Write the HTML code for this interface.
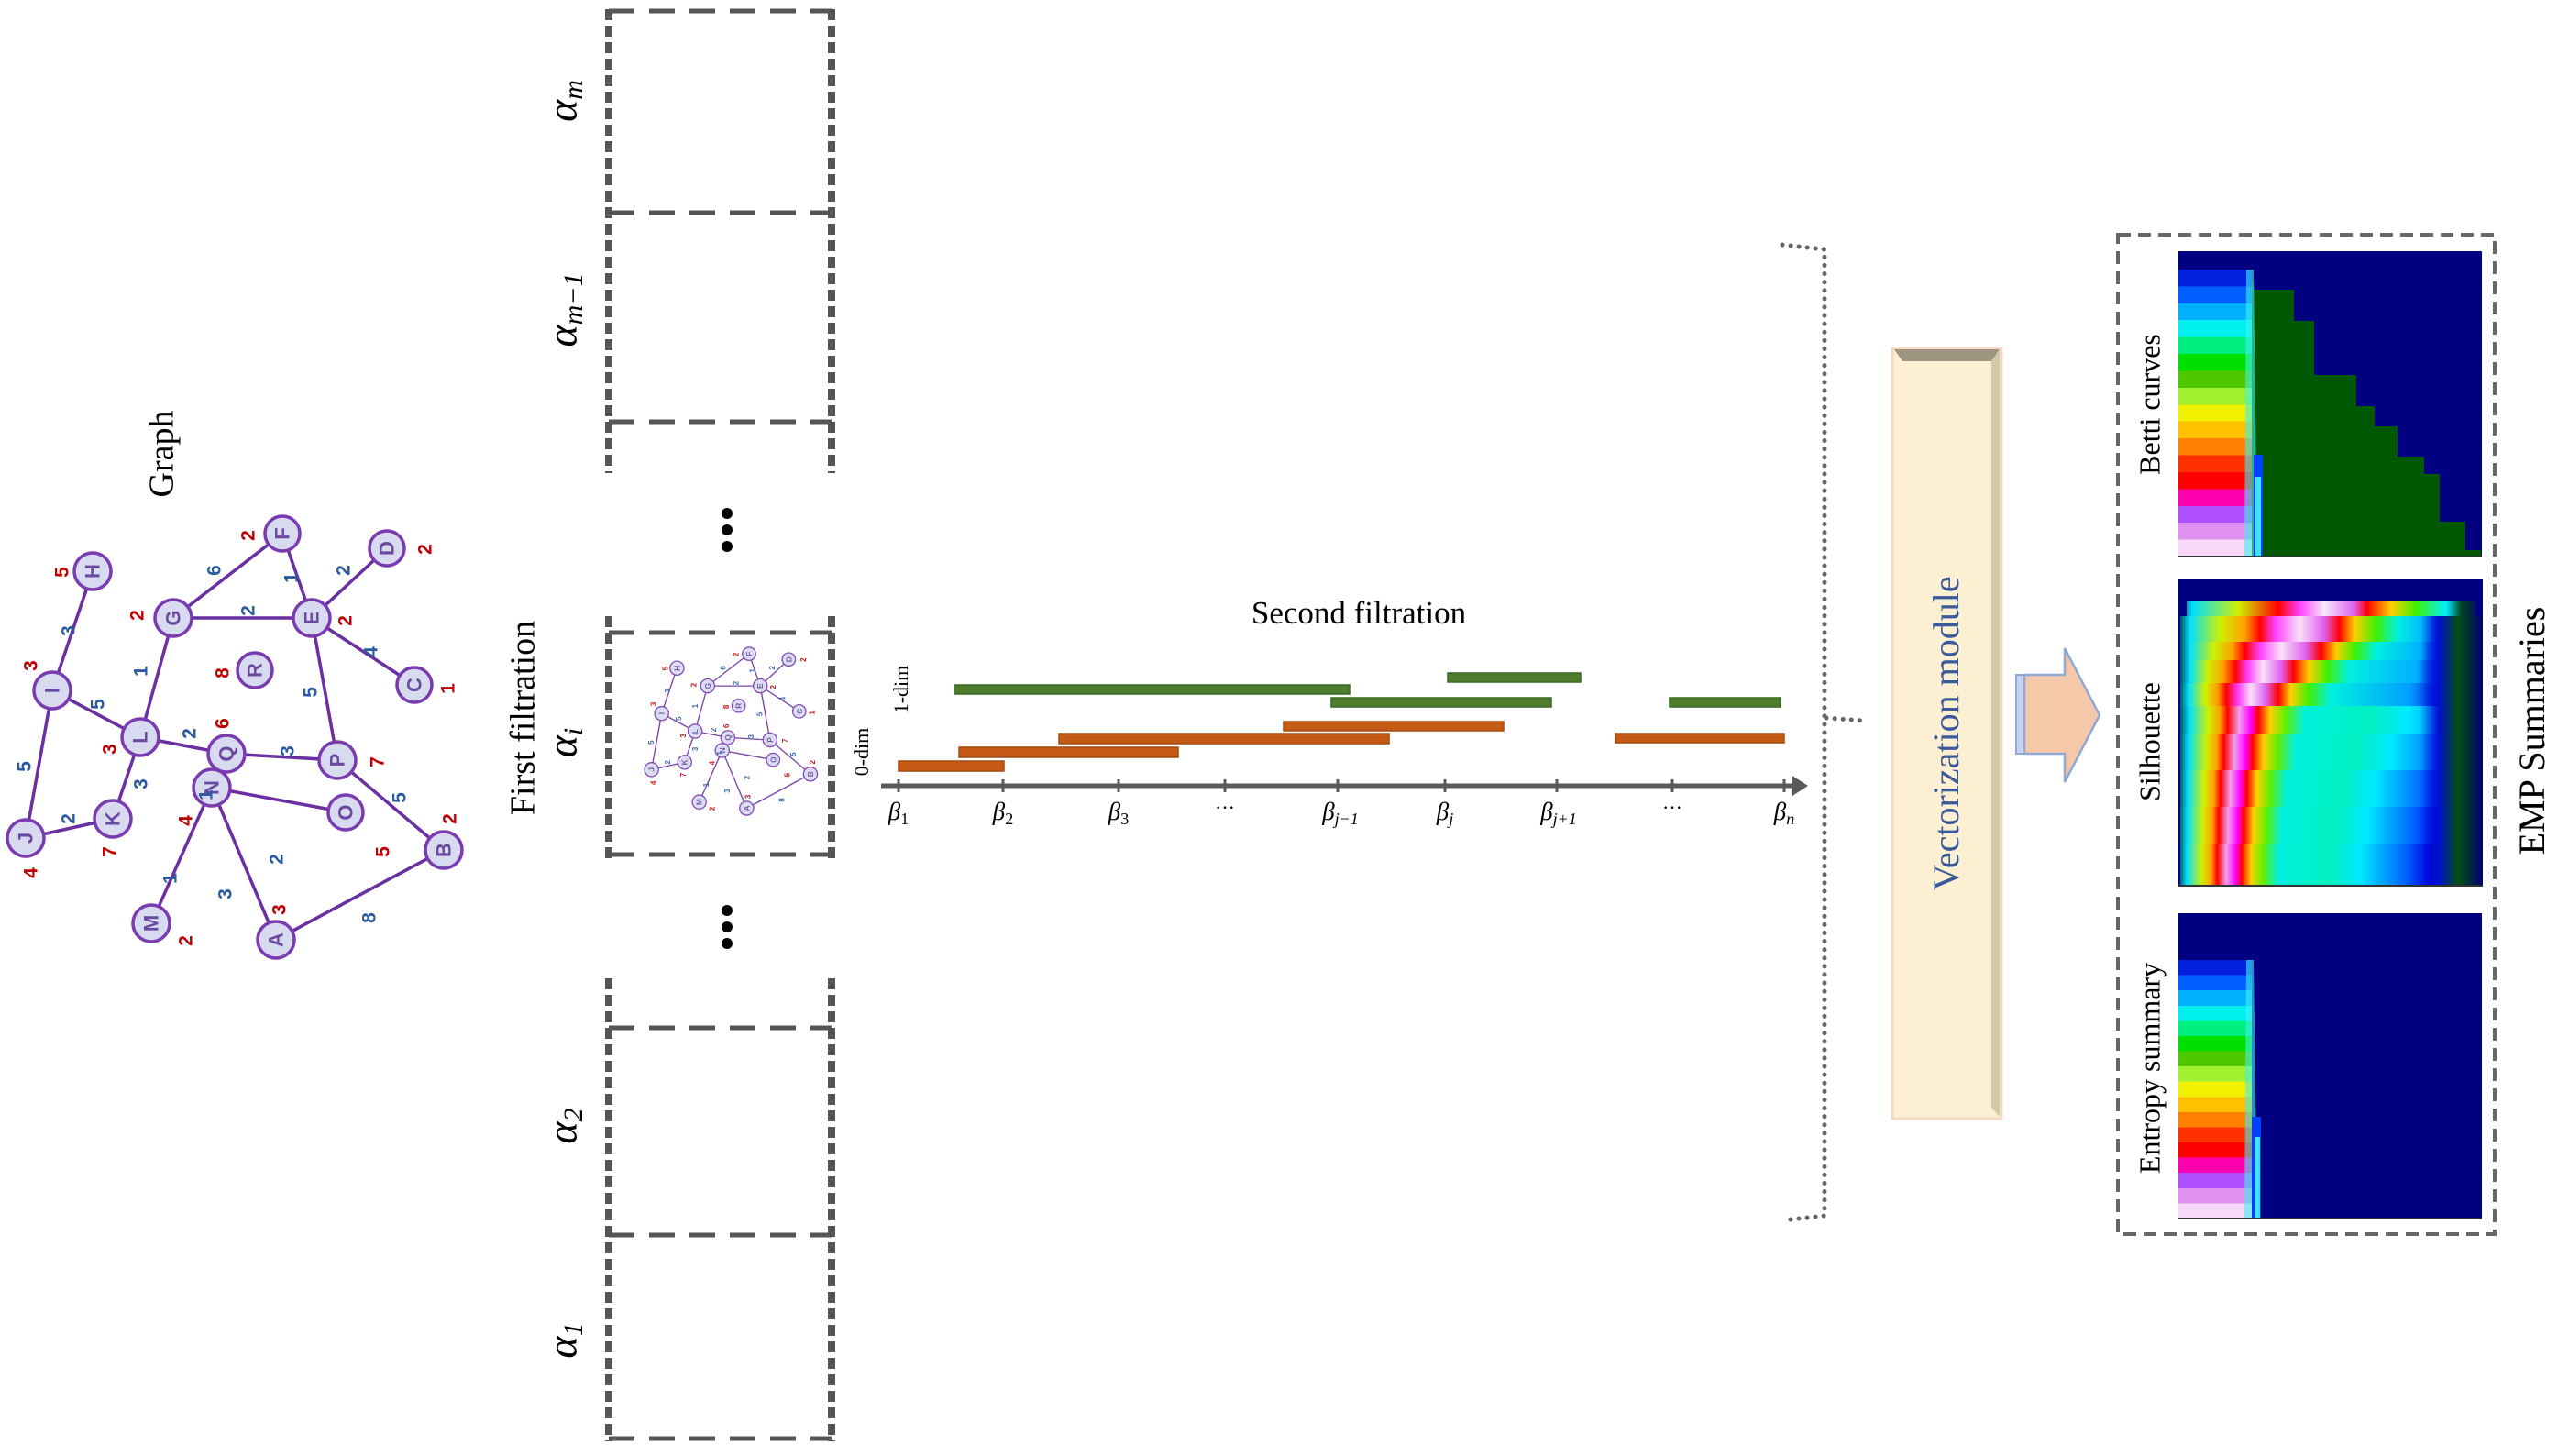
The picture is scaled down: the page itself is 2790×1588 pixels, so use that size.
<!DOCTYPE html>
<html><head><meta charset="utf-8"><style>
html,body{margin:0;padding:0;background:#fff;}
svg{display:block;}
.w{font-family:"Liberation Sans",sans-serif;font-weight:bold;}
.s{font-family:"Liberation Serif",serif;}
</style></head><body>
<svg width="2790" height="1588" viewBox="0 0 2790 1588" xmlns="http://www.w3.org/2000/svg">
<defs>
<linearGradient id="st" x1="0" y1="0" x2="0" y2="1">
<stop offset="0" stop-color="#0020e0"/><stop offset=".0588" stop-color="#0020e0"/>
<stop offset=".0588" stop-color="#0060ff"/><stop offset=".1176" stop-color="#0060ff"/>
<stop offset=".1176" stop-color="#00b0ff"/><stop offset=".1765" stop-color="#00b0ff"/>
<stop offset=".1765" stop-color="#00f0f0"/><stop offset=".2353" stop-color="#00f0f0"/>
<stop offset=".2353" stop-color="#00f080"/><stop offset=".2941" stop-color="#00f080"/>
<stop offset=".2941" stop-color="#00e000"/><stop offset=".3529" stop-color="#00e000"/>
<stop offset=".3529" stop-color="#50c800"/><stop offset=".4118" stop-color="#50c800"/>
<stop offset=".4118" stop-color="#a0f030"/><stop offset=".4706" stop-color="#a0f030"/>
<stop offset=".4706" stop-color="#f0f000"/><stop offset=".5294" stop-color="#f0f000"/>
<stop offset=".5294" stop-color="#ffc000"/><stop offset=".5882" stop-color="#ffc000"/>
<stop offset=".5882" stop-color="#ff8000"/><stop offset=".6471" stop-color="#ff8000"/>
<stop offset=".6471" stop-color="#ff3000"/><stop offset=".7059" stop-color="#ff3000"/>
<stop offset=".7059" stop-color="#ff0000"/><stop offset=".7647" stop-color="#ff0000"/>
<stop offset=".7647" stop-color="#ff00b0"/><stop offset=".8235" stop-color="#ff00b0"/>
<stop offset=".8235" stop-color="#b050ff"/><stop offset=".8824" stop-color="#b050ff"/>
<stop offset=".8824" stop-color="#e090f0"/><stop offset=".9412" stop-color="#e090f0"/>
<stop offset=".9412" stop-color="#f8d8f8"/><stop offset="1" stop-color="#f8d8f8"/>
</linearGradient>
<linearGradient id="sil" x1="2375" y1="0" x2="2708" y2="0" gradientUnits="userSpaceOnUse">
<stop offset="0" stop-color="#002a30"/><stop offset=".03" stop-color="#00e0ff"/>
<stop offset=".08" stop-color="#d0f000"/><stop offset=".11" stop-color="#ffa000"/>
<stop offset=".13" stop-color="#ff0000"/><stop offset=".16" stop-color="#f0a0f0"/>
<stop offset=".19" stop-color="#ff00ff"/><stop offset=".21" stop-color="#ff0000"/>
<stop offset=".24" stop-color="#ffd000"/><stop offset=".28" stop-color="#60f000"/>
<stop offset=".33" stop-color="#00f0e0"/><stop offset=".5" stop-color="#00f0c0"/>
<stop offset=".6" stop-color="#00e8ff"/><stop offset=".75" stop-color="#0060ff"/>
<stop offset=".83" stop-color="#0000e0"/><stop offset=".9" stop-color="#005010"/>
<stop offset="1" stop-color="#000070"/>
</linearGradient>
<linearGradient id="s1" href="#sil" x1="2375" y1="0" x2="2795" y2="0" gradientUnits="userSpaceOnUse"/>
<linearGradient id="s2" href="#sil" x1="2375" y1="0" x2="2765" y2="0" gradientUnits="userSpaceOnUse"/>
<linearGradient id="s3" href="#sil" x1="2375" y1="0" x2="2735" y2="0" gradientUnits="userSpaceOnUse"/>
<linearGradient id="s4" href="#sil" x1="2375" y1="0" x2="2720" y2="0" gradientUnits="userSpaceOnUse"/>
<linearGradient id="t1" x1="2375" y1="0" x2="2708" y2="0" gradientUnits="userSpaceOnUse">
<stop offset="0" stop-color="#002a30"/><stop offset=".04" stop-color="#00e0ff"/>
<stop offset=".14" stop-color="#d0f000"/><stop offset=".22" stop-color="#ffa000"/>
<stop offset=".27" stop-color="#ff0000"/><stop offset=".32" stop-color="#ff40ff"/>
<stop offset=".40" stop-color="#f8e0f8"/><stop offset=".48" stop-color="#e060f0"/>
<stop offset=".53" stop-color="#ff0000"/><stop offset=".58" stop-color="#ffd000"/>
<stop offset=".65" stop-color="#40f000"/><stop offset=".72" stop-color="#00f0e0"/>
<stop offset=".82" stop-color="#00b0ff"/><stop offset=".88" stop-color="#0010e0"/>
<stop offset=".93" stop-color="#005010"/><stop offset="1" stop-color="#000070"/>
</linearGradient>
<linearGradient id="t2" x1="2375" y1="0" x2="2708" y2="0" gradientUnits="userSpaceOnUse">
<stop offset="0" stop-color="#002a30"/><stop offset=".04" stop-color="#00e0ff"/>
<stop offset=".12" stop-color="#d0f000"/><stop offset=".18" stop-color="#ffa000"/>
<stop offset=".22" stop-color="#ff0000"/><stop offset=".27" stop-color="#ff40ff"/>
<stop offset=".34" stop-color="#f8e0f8"/><stop offset=".42" stop-color="#e060f0"/>
<stop offset=".47" stop-color="#ff0000"/><stop offset=".52" stop-color="#ffd000"/>
<stop offset=".58" stop-color="#40f000"/><stop offset=".65" stop-color="#00f0e0"/>
<stop offset=".80" stop-color="#00b0ff"/><stop offset=".88" stop-color="#0010e0"/>
<stop offset=".93" stop-color="#005010"/><stop offset="1" stop-color="#000070"/>
</linearGradient>
<linearGradient id="t3" x1="2375" y1="0" x2="2708" y2="0" gradientUnits="userSpaceOnUse">
<stop offset="0" stop-color="#002a30"/><stop offset=".04" stop-color="#00e0ff"/>
<stop offset=".10" stop-color="#d0f000"/><stop offset=".15" stop-color="#ffa000"/>
<stop offset=".19" stop-color="#ff0000"/><stop offset=".23" stop-color="#ff40ff"/>
<stop offset=".28" stop-color="#f8e0f8"/><stop offset=".34" stop-color="#e060f0"/>
<stop offset=".38" stop-color="#ff0000"/><stop offset=".43" stop-color="#ffd000"/>
<stop offset=".49" stop-color="#40f000"/><stop offset=".56" stop-color="#00f0e0"/>
<stop offset=".78" stop-color="#00b0ff"/><stop offset=".87" stop-color="#0010e0"/>
<stop offset=".93" stop-color="#005010"/><stop offset="1" stop-color="#000070"/>
</linearGradient>
<linearGradient id="t4" x1="2375" y1="0" x2="2708" y2="0" gradientUnits="userSpaceOnUse">
<stop offset="0" stop-color="#002a30"/><stop offset=".035" stop-color="#00e0ff"/>
<stop offset=".09" stop-color="#d0f000"/><stop offset=".13" stop-color="#ffa000"/>
<stop offset=".16" stop-color="#ff0000"/><stop offset=".20" stop-color="#ff40ff"/>
<stop offset=".24" stop-color="#f8e0f8"/><stop offset=".29" stop-color="#e060f0"/>
<stop offset=".33" stop-color="#ff0000"/><stop offset=".37" stop-color="#ffd000"/>
<stop offset=".43" stop-color="#40f000"/><stop offset=".50" stop-color="#00f0e0"/>
<stop offset=".76" stop-color="#00a0ff"/><stop offset=".86" stop-color="#0010e0"/>
<stop offset=".92" stop-color="#005010"/><stop offset="1" stop-color="#000070"/>
</linearGradient>
<linearGradient id="silt2" x1="2375" y1="0" x2="2708" y2="0" gradientUnits="userSpaceOnUse">
<stop offset="0" stop-color="#002a30"/><stop offset=".05" stop-color="#00e0ff"/>
<stop offset=".2" stop-color="#d0f000"/><stop offset=".33" stop-color="#ff0000"/>
<stop offset=".4" stop-color="#ff40ff"/><stop offset=".48" stop-color="#f8e8f8"/>
<stop offset=".58" stop-color="#e060f0"/><stop offset=".62" stop-color="#ff0000"/>
<stop offset=".7" stop-color="#ffd000"/><stop offset=".78" stop-color="#40f000"/>
<stop offset=".88" stop-color="#00f0ff"/><stop offset=".93" stop-color="#004020"/>
<stop offset="1" stop-color="#000070"/>
</linearGradient>
<linearGradient id="rt" x1="0" y1="0" x2="1" y2="0">
<stop offset="0" stop-color="#0000e0" stop-opacity="0"/><stop offset=".3" stop-color="#0010d0"/>
<stop offset=".6" stop-color="#005010"/><stop offset="1" stop-color="#000070"/>
</linearGradient>
</defs>

<!-- Graph -->
<text class="s" font-size="38" transform="translate(180,495) rotate(-90)" text-anchor="middle" dominant-baseline="middle">Graph</text>
<g id="graph">
<g stroke="#6a2fa0" stroke-width="3.5" fill="none">
<line x1="101" y1="623" x2="57" y2="753"/><line x1="57" y1="753" x2="28" y2="914"/>
<line x1="57" y1="753" x2="153" y2="804"/><line x1="28" y1="914" x2="123" y2="893"/>
<line x1="123" y1="893" x2="153" y2="804"/><line x1="153" y1="804" x2="189" y2="674"/>
<line x1="153" y1="804" x2="247" y2="822"/><line x1="189" y1="674" x2="308" y2="582"/>
<line x1="189" y1="674" x2="340" y2="674"/><line x1="308" y1="582" x2="340" y2="674"/>
<line x1="340" y1="674" x2="422" y2="598"/><line x1="340" y1="674" x2="452" y2="747"/>
<line x1="340" y1="674" x2="368" y2="829"/><line x1="247" y1="822" x2="368" y2="829"/>
<line x1="247" y1="822" x2="231" y2="859"/><line x1="368" y1="829" x2="484" y2="927"/>
<line x1="231" y1="859" x2="377" y2="886"/><line x1="231" y1="859" x2="165" y2="1007"/>
<line x1="231" y1="859" x2="301" y2="1025"/><line x1="301" y1="1025" x2="484" y2="927"/>
</g>
<g fill="#d8daf0" stroke="#7a3ab0" stroke-width="3.5">
<circle cx="101" cy="623" r="20"/><circle cx="57" cy="753" r="20"/><circle cx="28" cy="914" r="20"/>
<circle cx="123" cy="893" r="20"/><circle cx="153" cy="804" r="20"/><circle cx="189" cy="674" r="20"/>
<circle cx="308" cy="582" r="19"/><circle cx="422" cy="598" r="19"/><circle cx="340" cy="674" r="20"/>
<circle cx="452" cy="747" r="19"/><circle cx="278" cy="731" r="19"/><circle cx="247" cy="822" r="20"/>
<circle cx="368" cy="829" r="20"/><circle cx="231" cy="859" r="20"/><circle cx="377" cy="886" r="19"/>
<circle cx="484" cy="927" r="20"/><circle cx="165" cy="1007" r="20"/><circle cx="301" cy="1025" r="20"/>
</g>
<g class="w" font-size="22" fill="#6a4aa0" text-anchor="middle" dominant-baseline="central">
<text transform="translate(101,623) rotate(-90)">H</text><text transform="translate(57,753) rotate(-90)">I</text>
<text transform="translate(28,914) rotate(-90)">J</text><text transform="translate(123,893) rotate(-90)">K</text>
<text transform="translate(153,804) rotate(-90)">L</text><text transform="translate(189,674) rotate(-90)">G</text>
<text transform="translate(308,582) rotate(-90)">F</text><text transform="translate(422,598) rotate(-90)">D</text>
<text transform="translate(340,674) rotate(-90)">E</text><text transform="translate(452,747) rotate(-90)">C</text>
<text transform="translate(278,731) rotate(-90)">R</text><text transform="translate(247,822) rotate(-90)">Q</text>
<text transform="translate(368,829) rotate(-90)">P</text><text transform="translate(231,859) rotate(-90)">N</text>
<text transform="translate(377,886) rotate(-90)">O</text><text transform="translate(484,927) rotate(-90)">B</text>
<text transform="translate(165,1007) rotate(-90)">M</text><text transform="translate(301,1025) rotate(-90)">A</text>
</g>
<g class="w" font-size="21" fill="#2a5aa0" text-anchor="middle" dominant-baseline="central">
<text transform="translate(75,688) rotate(-90)">3</text><text transform="translate(27,836) rotate(-90)">5</text>
<text transform="translate(107,768) rotate(-90)">5</text><text transform="translate(75,893) rotate(-90)">2</text>
<text transform="translate(154,855) rotate(-90)">3</text><text transform="translate(154,732) rotate(-90)">1</text>
<text transform="translate(207,800) rotate(-90)">2</text><text transform="translate(234,622) rotate(-90)">6</text>
<text transform="translate(271,666) rotate(-90)">2</text><text transform="translate(318,630) rotate(-90)">1</text>
<text transform="translate(375,622) rotate(-90)">2</text><text transform="translate(405,711) rotate(-90)">4</text>
<text transform="translate(339,755) rotate(-90)">5</text><text transform="translate(314,819) rotate(-90)">3</text>
<text transform="translate(225,867) rotate(-90)">1</text><text transform="translate(436,870) rotate(-90)">5</text>
<text transform="translate(302,937) rotate(-90)">2</text><text transform="translate(186,958) rotate(-90)">1</text>
<text transform="translate(246,975) rotate(-90)">3</text><text transform="translate(403,1001) rotate(-90)">8</text>
</g>
<g class="w" font-size="21" fill="#c00000" text-anchor="middle" dominant-baseline="central">
<text transform="translate(68,624) rotate(-90)">5</text><text transform="translate(34,726) rotate(-90)">3</text>
<text transform="translate(34,952) rotate(-90)">4</text><text transform="translate(120,929) rotate(-90)">7</text>
<text transform="translate(120,817) rotate(-90)">3</text><text transform="translate(150,671) rotate(-90)">2</text>
<text transform="translate(271,584) rotate(-90)">2</text><text transform="translate(464,599) rotate(-90)">2</text>
<text transform="translate(377,677) rotate(-90)">2</text><text transform="translate(489,751) rotate(-90)">1</text>
<text transform="translate(243,734) rotate(-90)">8</text><text transform="translate(243,789) rotate(-90)">6</text>
<text transform="translate(412,831) rotate(-90)">7</text><text transform="translate(203,895) rotate(-90)">4</text>
<text transform="translate(418,929) rotate(-90)">5</text><text transform="translate(491,893) rotate(-90)">2</text>
<text transform="translate(203,1026) rotate(-90)">2</text><text transform="translate(305,992) rotate(-90)">3</text>
</g>
</g>

<!-- First filtration boxes -->
<g stroke="#555" fill="none">
<g stroke-width="5" stroke-dasharray="28 16">
<line x1="664" y1="12" x2="907" y2="12"/><line x1="664" y1="232" x2="907" y2="232"/><line x1="664" y1="460" x2="907" y2="460"/>
<line x1="664" y1="690" x2="907" y2="690"/><line x1="664" y1="932" x2="907" y2="932"/>
<line x1="664" y1="1121" x2="907" y2="1121"/><line x1="664" y1="1347" x2="907" y2="1347"/><line x1="664" y1="1569" x2="907" y2="1569"/>
</g>
<g stroke-width="8" stroke-dasharray="12 6">
<line x1="664" y1="10" x2="664" y2="516"/><line x1="907" y1="10" x2="907" y2="516"/>
<line x1="664" y1="672" x2="664" y2="937"/><line x1="907" y1="672" x2="907" y2="937"/>
<line x1="664" y1="1067" x2="664" y2="1572"/><line x1="907" y1="1067" x2="907" y2="1572"/>
</g>
</g>
<g transform="translate(700,492) scale(0.38)" opacity="0.9"><use href="#graph"/></g>
<g fill="#000">
<circle cx="793" cy="560" r="6"/><circle cx="793" cy="578" r="6"/><circle cx="793" cy="596" r="6"/>
<circle cx="793" cy="993" r="6"/><circle cx="793" cy="1011" r="6"/><circle cx="793" cy="1029" r="6"/>
</g>
<g class="s" font-style="italic" font-size="46" text-anchor="middle" dominant-baseline="middle">
<text transform="translate(618,110) rotate(-90)">α<tspan font-size="30" dy="10">m</tspan></text>
<text transform="translate(618,338) rotate(-90)">α<tspan font-size="30" dy="10">m−1</tspan></text>
<text transform="translate(618,810) rotate(-90)">α<tspan font-size="30" dy="10">i</tspan></text>
<text transform="translate(618,1228) rotate(-90)">α<tspan font-size="30" dy="10">2</tspan></text>
<text transform="translate(618,1462) rotate(-90)">α<tspan font-size="30" dy="10">1</tspan></text>
</g>
<text class="s" font-size="38" transform="translate(574,783) rotate(-90)" text-anchor="middle" dominant-baseline="middle">First filtration</text>

<!-- Second filtration -->
<text class="s" font-size="35" x="1482" y="672" text-anchor="middle" dominant-baseline="middle">Second filtration</text>
<text class="s" font-size="22" transform="translate(985,752) rotate(-90)" text-anchor="middle" dominant-baseline="middle">1-dim</text>
<text class="s" font-size="22" transform="translate(942,820) rotate(-90)" text-anchor="middle" dominant-baseline="middle">0-dim</text>
<g stroke-width="1.5">
<g fill="#4e7d2e" stroke="#3b6a22">
<rect x="1041" y="747" width="431" height="10"/><rect x="1579" y="734" width="145" height="10"/>
<rect x="1452" y="761" width="240" height="10"/><rect x="1821" y="761" width="121" height="10"/>
</g>
<g fill="#c65a14" stroke="#a44a10">
<rect x="1400" y="787" width="240" height="10"/><rect x="1155" y="800" width="360" height="11"/>
<rect x="1762" y="800" width="184" height="10"/><rect x="1046" y="815" width="239" height="11"/>
<rect x="980" y="830" width="115" height="11"/>
</g>
</g>
<line x1="961" y1="857" x2="1958" y2="857" stroke="#5a5a5a" stroke-width="5"/>
<polygon points="1955,846 1972,857 1955,868" fill="#5a5a5a"/>
<g stroke="#5a5a5a" stroke-width="3">
<line x1="980" y1="850" x2="980" y2="864"/><line x1="1094" y1="850" x2="1094" y2="864"/>
<line x1="1220" y1="850" x2="1220" y2="864"/><line x1="1336" y1="850" x2="1336" y2="864"/>
<line x1="1459" y1="850" x2="1459" y2="864"/><line x1="1576" y1="850" x2="1576" y2="864"/>
<line x1="1698" y1="850" x2="1698" y2="864"/><line x1="1824" y1="850" x2="1824" y2="864"/>
<line x1="1946" y1="850" x2="1946" y2="864"/>
</g>
<g class="s" font-style="italic" font-size="27" text-anchor="middle">
<text x="980" y="894">β<tspan font-size="18" font-style="normal" dy="5">1</tspan></text>
<text x="1094" y="894">β<tspan font-size="18" font-style="normal" dy="5">2</tspan></text>
<text x="1220" y="894">β<tspan font-size="18" font-style="normal" dy="5">3</tspan></text>
<text x="1336" y="888" font-style="normal" font-size="22">···</text>
<text x="1462" y="894">β<tspan font-size="18" dy="5">j−1</tspan></text>
<text x="1576" y="894">β<tspan font-size="18" dy="5">j</tspan></text>
<text x="1700" y="894">β<tspan font-size="18" dy="5">j+1</tspan></text>
<text x="1824" y="888" font-style="normal" font-size="22">···</text>
<text x="1946" y="894">β<tspan font-size="18" dy="5">n</tspan></text>
</g>

<!-- dotted bracket -->
<g stroke="#666" stroke-width="5" stroke-linecap="round" stroke-dasharray="0.1 9" fill="none">
<path d="M1944,267 L1990,272 L1990,1326 L1944,1331"/>
<path d="M1992,783 L2032,786"/>
</g>

<!-- Vectorization module -->
<rect x="2064" y="380" width="119" height="840" fill="#fdf0d2" stroke="#f6d9c4" stroke-width="3"/>
<polygon points="2066,381 2181,381 2172,394 2075,394" fill="#9e9580"/>
<polygon points="2181,381 2181,1218 2172,1208 2172,394" fill="#d4c8a8"/>
<text class="s" font-size="40" fill="#3a5a9a" transform="translate(2127,800) rotate(-90)" text-anchor="middle" dominant-baseline="middle">Vectorization module</text>

<!-- big arrow -->
<polygon points="2208,736 2252,736 2252,707 2290,780 2252,853 2252,822 2208,822" fill="#f5c8aa" stroke="#8fa9d6" stroke-width="2.5"/>
<rect x="2199" y="736" width="9" height="86" fill="#c6d2ee" stroke="#8fa9d6" stroke-width="2"/>

<!-- EMP box -->
<rect x="2310" y="256" width="411" height="1090" fill="none" stroke="#666" stroke-width="4" stroke-dasharray="14 8"/>
<text class="s" font-size="40" transform="translate(2766,797) rotate(-90)" text-anchor="middle" dominant-baseline="middle">EMP Summaries</text>
<g class="s" font-size="32" text-anchor="middle" dominant-baseline="middle">
<text transform="translate(2348,441) rotate(-90)">Betti curves</text>
<text transform="translate(2348,809) rotate(-90)">Silhouette</text>
<text transform="translate(2348,1165) rotate(-90)">Entropy summary</text>
</g>

<!-- Betti -->
<rect x="2376" y="274" width="331" height="333" fill="#000080"/>
<polygon points="2454,294 2459,316 2502,316 2502,350 2524,350 2524,409 2570,409 2570,443 2590,443 2590,465 2615,465 2615,498 2644,498 2644,517 2661,517 2661,569 2689,569 2689,600 2706,600 2706,607 2454,607" fill="#005800"/>
<rect x="2376" y="294" width="80" height="313" fill="url(#st)"/>
<polygon points="2450,294 2458,294 2462,607 2448,607" fill="#40f0f0" opacity="0.6"/>
<rect x="2458" y="496" width="10" height="111" fill="#0040ff"/>
<rect x="2460" y="520" width="6" height="87" fill="#40e0ff"/>
<line x1="2376" y1="607" x2="2707" y2="607" stroke="#333" stroke-width="2"/>

<!-- Silhouette -->
<rect x="2376" y="632" width="332" height="334" fill="#000080"/>
<rect x="2378" y="920" width="328" height="45" fill="url(#sil)"/>
<rect x="2378" y="880" width="328" height="40" fill="url(#s4)"/>
<rect x="2378" y="840" width="328" height="40" fill="url(#s3)"/>
<rect x="2378" y="800" width="328" height="40" fill="url(#s2)"/>
<rect x="2378" y="770" width="328" height="30" fill="url(#s1)"/>
<rect x="2378" y="745" width="328" height="25" fill="url(#t4)"/>
<rect x="2378" y="720" width="328" height="25" fill="url(#t3)"/>
<rect x="2378" y="700" width="328" height="20" fill="url(#t2)"/>
<rect x="2378" y="672" width="328" height="28" fill="url(#t1)"/>
<rect x="2385" y="656" width="315" height="16" fill="url(#silt2)"/>
<rect x="2640" y="672" width="68" height="293" fill="url(#rt)"/>
<line x1="2376" y1="966" x2="2708" y2="966" stroke="#333" stroke-width="2"/>

<!-- Entropy -->
<rect x="2376" y="996" width="331" height="333" fill="#000080"/>
<rect x="2376" y="1047" width="80" height="282" fill="url(#st)"/>
<polygon points="2450,1047 2458,1047 2462,1329 2448,1329" fill="#40f0f0" opacity="0.6"/>
<rect x="2456" y="1218" width="10" height="111" fill="#0040ff"/>
<rect x="2459" y="1240" width="6" height="89" fill="#40e0ff"/>
<line x1="2376" y1="1329" x2="2707" y2="1329" stroke="#333" stroke-width="2"/>
</svg>
</body></html>
